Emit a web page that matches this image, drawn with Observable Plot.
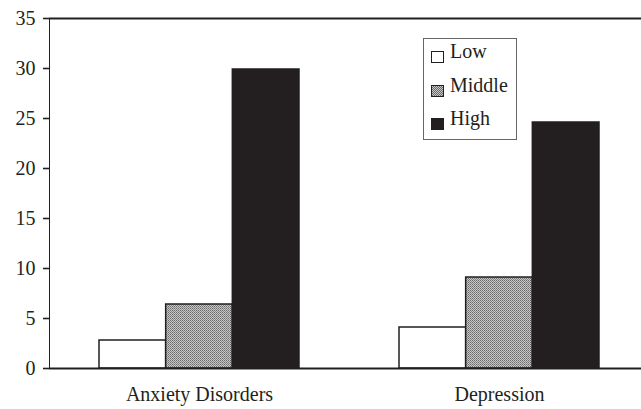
<!DOCTYPE html>
<html>
<head>
<meta charset="utf-8">
<script src="https://cdn.jsdelivr.net/npm/d3@7"></script>
<script src="https://cdn.jsdelivr.net/npm/@observablehq/plot@0.6"></script>
<style>
  html, body { margin: 0; padding: 0; background: #fff; }
  #wrap { position: relative; width: 641px; height: 409px; overflow: hidden; font-family: "Liberation Serif", "Times New Roman", serif; color: #231f20; }
  #legend { position: absolute; left: 423px; top: 38px; width: 94px; height: 102px; border: 1px solid #666; box-sizing: border-box; background: #fff; }
  .row { position: absolute; left: 7px; height: 20px; font-size: 20px; line-height: 20px; white-space: nowrap; }
  .sw { display: inline-block; box-sizing: border-box; width: 13px; height: 12px; border: 1.4px solid #231f20; vertical-align: -5px; margin-right: 6px; }
</style>
</head>
<body>
<div id="wrap"></div>
<script>
const categories = ["Anxiety Disorders", "Depression"];
const levels = ["Low", "Middle", "High"];
const lowValues = [2.8, 4.1];
const middleValues = [6.4, 9.1];
const highValues = [29.9, 24.6];
const yTicks = [0, 5, 10, 15, 20, 25, 30, 35];

const seriesValues = {Low: lowValues, Middle: middleValues, High: highValues};
const data = levels.flatMap(level => categories.map((category, i) => ({category, level, value: seriesValues[level][i]})));

const ink = "#231f20";
const fills = {Low: "#ffffff", Middle: "url(#stipple)", High: ink};

// band layout: step 300, bandwidth 200
const bandwidth = 200;
const third = bandwidth / 3;
const insets = {
  Low: {insetLeft: 0, insetRight: 2 * third},
  Middle: {insetLeft: third, insetRight: third},
  High: {insetLeft: 2 * third, insetRight: 0}
};

const chart = Plot.plot({
  width: 641,
  height: 409,
  marginLeft: 49,
  marginRight: 0,
  marginTop: 18,
  marginBottom: 41,
  style: {fontFamily: "'Liberation Serif', 'Times New Roman', serif", fontSize: "20px", color: ink, background: "white", overflow: "visible"},
  x: {domain: categories, range: [49, 649], paddingInner: 1/3, paddingOuter: 1/6, label: null, tickSize: 0, tickPadding: 18},
  y: {domain: [0, 35], ticks: yTicks, label: null, tickSize: 6, tickPadding: 8, line: true},
  marks: [
    ...levels.map(level => Plot.barY(data.filter(d => d.level === level), {
      x: "category", y: "value", fill: fills[level], stroke: ink, strokeWidth: 1.5, ...insets[level]
    })),
    Plot.ruleY([0], {stroke: ink, strokeWidth: 1.8}),
    Plot.ruleY([35], {stroke: ink, strokeWidth: 2})
  ]
});

// stipple pattern for "Middle"
const ns = "http://www.w3.org/2000/svg";
const defs = document.createElementNS(ns, "defs");
defs.innerHTML = `<pattern id="stipple" width="2" height="2" patternUnits="userSpaceOnUse">
  <rect width="2" height="2" fill="#c8c8c8"></rect>
  <rect x="0" y="0" width="1" height="1" fill="#6a6a6a"></rect>
  <rect x="1" y="1" width="1" height="1" fill="#858585"></rect>
</pattern>`;
chart.insertBefore(defs, chart.firstChild);
chart.querySelectorAll("[aria-label='y-axis'] path, [aria-label='y-axis tick'] path, [aria-label='y-axis tick'], [aria-label='y-axis'] line").forEach(e => e.setAttribute("stroke-width", "1.6"));

const wrap = document.getElementById("wrap");
wrap.appendChild(chart);

const legend = document.createElement("div");
legend.id = "legend";
levels.forEach((level, i) => {
  const row = document.createElement("div");
  row.className = "row";
  row.style.top = (2 + i * 33.5) + "px";
  const sw = document.createElement("span");
  sw.className = "sw";
  sw.style.background = level === "Middle" ? "repeating-conic-gradient(#6a6a6a 0 25%, #c8c8c8 0 50%) 0 0 / 2px 2px" : (level === "High" ? ink : "#fff");
  row.appendChild(sw);
  row.appendChild(document.createTextNode(level));
  legend.appendChild(row);
});
wrap.appendChild(legend);
</script>
</body>
</html>
